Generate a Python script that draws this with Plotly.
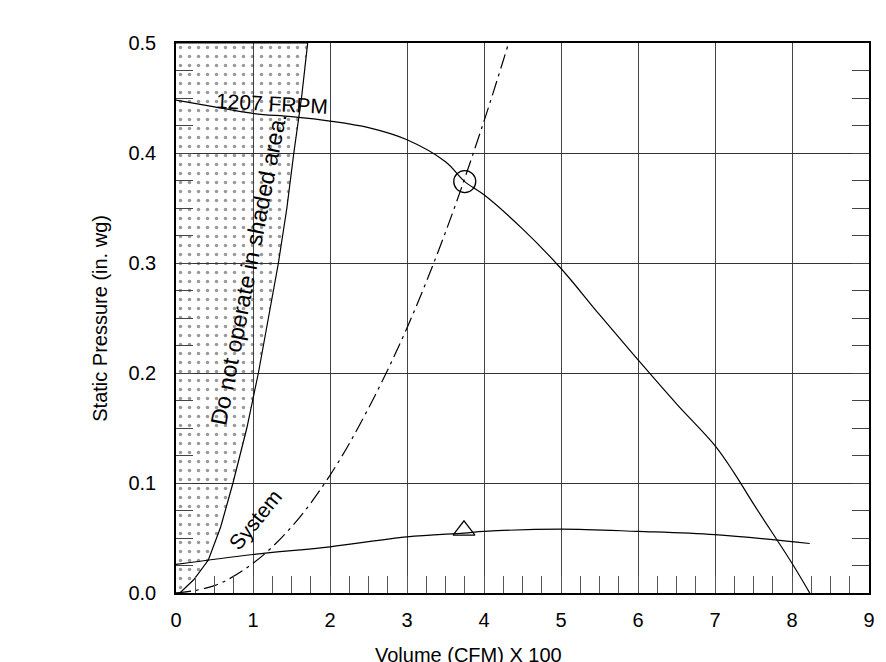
"""
Fan performance chart: fan curve, system curve and shaded no-operate zone.
"""

import plotly.graph_objects as go

# fan curve, 1207 FRPM
fan_cfm = [0, 0.5, 1, 1.5, 2, 2.5, 3, 3.5, 3.75, 4, 4.5, 5, 5.5, 6, 6.5, 7, 7.25, 7.5, 8, 8.23]
fan_sp = [0.448, 0.442, 0.436, 0.433, 0.429, 0.423, 0.412, 0.392, 0.374, 0.362, 0.331,
          0.295, 0.253, 0.212, 0.172, 0.134, 0.109, 0.081, 0.027, 0.0]

# system curve
sys_cfm = [0, 0.5, 1, 1.5, 2, 2.5, 3, 3.5, 4, 4.32]
sys_sp = [0, 0.0067, 0.027, 0.060, 0.107, 0.168, 0.241, 0.328, 0.429, 0.5]

# lower (power) curve
low_cfm = [0, 1, 2, 3, 3.74, 4, 5, 6, 7, 8.23]
low_sp = [0.026, 0.035, 0.042, 0.051, 0.0545, 0.056, 0.058, 0.056, 0.053, 0.045]

# boundary of the shaded area
shade_cfm = [0.05, 0.23, 0.42, 0.58, 0.74, 0.92, 1.07, 1.2, 1.33, 1.44, 1.53, 1.63, 1.71]
shade_sp = [0, 0.012, 0.03, 0.06, 0.1, 0.15, 0.2, 0.25, 0.3, 0.35, 0.4, 0.45, 0.5]

# operating points
op_cfm = [3.75]
op_sp = [0.374]
op_low_cfm = [3.74]
op_low_sp = [0.057]

x_ticks = list(range(0, 10))
y_ticks = [0.0, 0.1, 0.2, 0.3, 0.4, 0.5]

FONT = "Liberation Sans, Arial, sans-serif"
LINE = dict(color="black", width=1.2)

fig = go.Figure()

fig.add_trace(go.Scatter(
    x=[0] + shade_cfm + [0], y=[0] + shade_sp + [0.5],
    mode="lines", fill="toself", line=LINE,
    fillcolor="rgba(255,255,255,0)",
    fillpattern=dict(shape=".", fgcolor="#333", bgcolor="rgba(255,255,255,0)",
                     size=9, solidity=0.12),
    hoverinfo="skip"))

fig.add_trace(go.Scatter(x=fan_cfm, y=fan_sp, mode="lines", line=dict(LINE, shape="spline")))
fig.add_trace(go.Scatter(x=sys_cfm, y=sys_sp, mode="lines",
                         line=dict(color="black", width=1.2, shape="spline",
                                   dash="15px,5px,3px,5px")))
fig.add_trace(go.Scatter(x=low_cfm, y=low_sp, mode="lines", line=dict(LINE, shape="spline")))

fig.add_trace(go.Scatter(x=op_cfm, y=op_sp, mode="markers",
                         marker=dict(symbol="circle-open", size=22, color="black",
                                     line=dict(width=1.3))))
fig.add_trace(go.Scatter(x=op_low_cfm, y=op_low_sp, mode="markers",
                         marker=dict(symbol="triangle-up-open", size=19, color="black",
                                     line=dict(width=1.3))))

fig.add_annotation(x=1.25, y=0.445, text="1207 FRPM", showarrow=False, textangle=3,
                   font=dict(size=21, color="black", family=FONT))
fig.add_annotation(x=0.935, y=0.294, text="Do not operate in shaded area.", showarrow=False,
                   textangle=-79, font=dict(size=23, color="black", family=FONT))
fig.add_annotation(x=1.03, y=0.067, text="System", showarrow=False, textangle=-51,
                   font=dict(size=21, color="black", family=FONT))

# axis titles placed as annotations
fig.add_annotation(x=3.8, xref="x", y=-0.112, yref="paper", text="Volume (CFM) X 100",
                   showarrow=False, yanchor="middle",
                   font=dict(size=20, color="black", family=FONT))
fig.add_annotation(x=-0.11, xref="paper", y=0.5, yref="paper", text="Static Pressure (in. wg)",
                   showarrow=False, textangle=-90, xanchor="center",
                   font=dict(size=20, color="black", family=FONT))

fig.update_xaxes(range=[0, 9], tickvals=x_ticks, showgrid=True, gridcolor="#444", gridwidth=1.2,
                 zeroline=False, showline=True, linecolor="black", linewidth=1.5, mirror=True,
                 ticks="inside", ticklen=17, tickcolor="#555", ticklabelstandoff=8,
                 minor=dict(dtick=0.25, ticks="inside", ticklen=17, tickcolor="#555",
                            showgrid=False),
                 tickfont=dict(size=20, color="black", family=FONT))
fig.update_yaxes(range=[0, 0.5], tickvals=y_ticks, tickformat=".1f", showgrid=True,
                 gridcolor="#333", gridwidth=1.2, zeroline=False, showline=True,
                 linecolor="black", linewidth=1.5, mirror="allticks",
                 ticks="inside", ticklen=17, tickcolor="#444", ticklabelstandoff=14,
                 minor=dict(dtick=0.025, ticks="inside", ticklen=17, tickcolor="#444",
                            showgrid=False),
                 tickfont=dict(size=20, color="black", family=FONT))

# page body adds an 8px offset, so margins are trimmed to keep the plot box in place
fig.update_layout(width=886, height=662, showlegend=False,
                  margin=dict(l=168, r=25, t=35, b=77),
                  plot_bgcolor="white", paper_bgcolor="white")

fig.write_html("out.html")
